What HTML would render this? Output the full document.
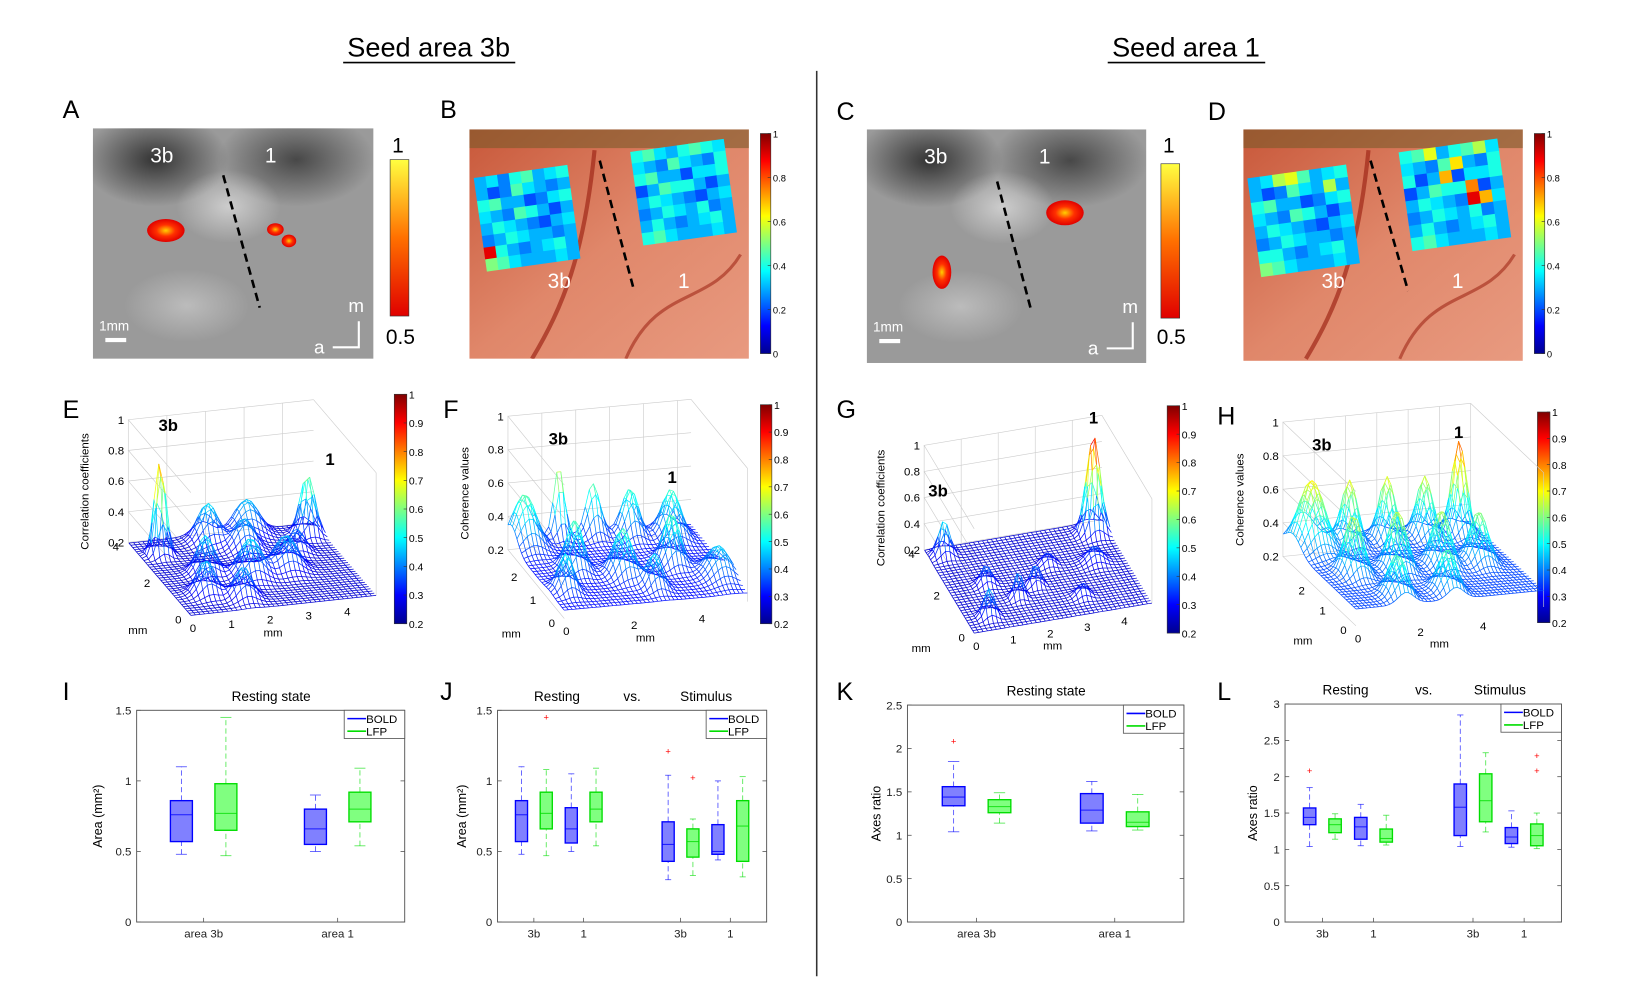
<!DOCTYPE html>
<html><head><meta charset="utf-8"><style>
html,body{margin:0;padding:0;background:#fff;}
svg{display:block;font-family:"Liberation Sans",sans-serif;}
</style></head><body>
<svg id="fig" width="1633" height="984" viewBox="0 0 1565.6 943.4" preserveAspectRatio="none" xmlns="http://www.w3.org/2000/svg">
<defs>
<linearGradient id="jetV" x1="0" y1="1" x2="0" y2="0">
<stop offset="0" stop-color="#00008f"/><stop offset="0.125" stop-color="#0000ff"/><stop offset="0.375" stop-color="#00ffff"/><stop offset="0.625" stop-color="#ffff00"/><stop offset="0.875" stop-color="#ff0000"/><stop offset="1" stop-color="#800000"/>
</linearGradient>
<linearGradient id="hotV" x1="0" y1="1" x2="0" y2="0">
<stop offset="0" stop-color="#e00000"/><stop offset="0.5" stop-color="#ff7000"/><stop offset="1" stop-color="#ffff40"/>
</linearGradient>
<radialGradient id="dark1" cx="0.5" cy="0.5" r="0.5"><stop offset="0" stop-color="#333"/><stop offset="1" stop-color="#333" stop-opacity="0"/></radialGradient>
<radialGradient id="light1" cx="0.5" cy="0.5" r="0.5"><stop offset="0" stop-color="#eee"/><stop offset="1" stop-color="#eee" stop-opacity="0"/></radialGradient>
<radialGradient id="blob" cx="0.5" cy="0.5" r="0.5"><stop offset="0" stop-color="#ffd000"/><stop offset="0.5" stop-color="#ff3000"/><stop offset="1" stop-color="#e00000"/></radialGradient>
<linearGradient id="brain" x1="0" y1="0" x2="1" y2="1"><stop offset="0" stop-color="#c8583a"/><stop offset="0.5" stop-color="#e0876a"/><stop offset="1" stop-color="#e89a80"/></linearGradient>
<clipPath id="clipA"><rect x="89" y="123" width="269" height="221"/></clipPath>
<clipPath id="clipC"><rect x="831" y="124" width="268" height="224"/></clipPath>
<clipPath id="clipB"><rect x="450" y="124" width="268" height="220"/></clipPath>
<clipPath id="clipD"><rect x="1192" y="124" width="268" height="222"/></clipPath>
</defs>

<text x="411" y="54" font-size="26" text-anchor="middle">Seed area 3b</text>
<line x1="329" y1="60" x2="494" y2="60" stroke="#000" stroke-width="1.5"/>
<text x="1137" y="54" font-size="26" text-anchor="middle">Seed area 1</text>
<line x1="1062" y1="60" x2="1213" y2="60" stroke="#000" stroke-width="1.5"/>
<line x1="783" y1="68" x2="783" y2="936" stroke="#333" stroke-width="1.5"/>

<g id="letters" font-size="24"></g>
<g id="images"></g>
<g id="surfaces"></g>
<g id="boxes" font-size="11"></g>
</svg>
<script>
var NS="http://www.w3.org/2000/svg";
function mk(parent,tag,attrs,text){var e=document.createElementNS(NS,tag);for(var k in attrs)e.setAttribute(k,attrs[k]);if(text!==undefined)e.textContent=text;parent.appendChild(e);return e;}
function jet(v){v=Math.max(0,Math.min(1,v));var r=Math.min(4*v-1.5,-4*v+4.5),g=Math.min(4*v-0.5,-4*v+3.5),b=Math.min(4*v+0.5,-4*v+2.5);function c(x){return Math.round(255*Math.max(0,Math.min(1,x)));}return "rgb("+c(r)+","+c(g)+","+c(b)+")";}

var letterNames=["A","B","C","D","E","F","G","H","I","J","K","L"];
var letterPos=[[60,113],[422,113],[802,115],[1158,115],[60,401],[425,401],[802,401],[1167,407],[60,671],[422,671],[802,671],[1167,671]];
var LG=document.getElementById("letters");
letterNames.forEach(function(n,i){var t=mk(LG,"text",{x:letterPos[i][0],y:letterPos[i][1]},n);

});

var IM=document.getElementById("images");
function greyImage(x,y,w,h,name,clip,blobs,dash){
  var g=mk(IM,"g",{"clip-path":"url(#"+clip+")"});
  
  
  mk(g,"rect",{x:x,y:y,width:w,height:h,fill:"#9a9a9a"});
  mk(g,"ellipse",{cx:x+60,cy:y+30,rx:70,ry:45,fill:"url(#dark1)"});
  mk(g,"ellipse",{cx:x+195,cy:y+30,rx:75,ry:45,fill:"url(#dark1)",opacity:0.8});
  mk(g,"ellipse",{cx:x+130,cy:y+75,rx:50,ry:35,fill:"url(#light1)",opacity:0.6});
  mk(g,"ellipse",{cx:x+90,cy:y+170,rx:60,ry:35,fill:"url(#light1)",opacity:0.4});
  blobs.forEach(function(b){mk(g,"ellipse",{cx:x+b[0],cy:y+b[1],rx:b[2],ry:b[3],fill:"url(#blob)"});});
  mk(g,"line",{x1:x+dash[0],y1:y+dash[1],x2:x+dash[2],y2:y+dash[3],stroke:"#000","stroke-width":2.5,"stroke-dasharray":"8,5"});
  mk(g,"text",{x:x+55,y:y+33,"font-size":20,fill:"#fff"},"3b");
  mk(g,"text",{x:x+165,y:y+33,"font-size":20,fill:"#fff"},"1");
  mk(g,"text",{x:x+6,y:y+194,"font-size":13,fill:"#fff"},"1mm");
  mk(g,"rect",{x:x+12,y:y+201,width:20,height:4,fill:"#fff"});
  mk(g,"text",{x:x+245,y:y+176,"font-size":18,fill:"#fff"},"m");
  mk(g,"text",{x:x+212,y:y+216,"font-size":18,fill:"#fff"},"a");
  mk(g,"polyline",{points:(x+255)+","+(y+185)+" "+(x+255)+","+(y+210)+" "+(x+230)+","+(y+210),fill:"none",stroke:"#fff","stroke-width":2});
}
greyImage(89,123,269,221,"bold-map-3b","clipA",[[70,98,18,11],[175,97,8,6],[188,108,7,6]],[125,45,160,172]);
greyImage(831,124,268,224,"bold-map-1","clipC",[[190,80,18,12],[72,137,9,16]],[125,50,158,175]);

function lfpImage(x,y,w,h,name,clip,sq1,sq2,vals1,vals2,dash){
  var g=mk(IM,"g",{"clip-path":"url(#"+clip+")"});
  
  
  mk(g,"rect",{x:x,y:y,width:w,height:h,fill:"url(#brain)"});
  mk(g,"path",{d:"M"+(x+120)+","+(y+20)+" C"+(x+110)+","+(y+120)+" "+(x+90)+","+(y+170)+" "+(x+60)+","+(y+220),stroke:"#a02818","stroke-width":4,fill:"none",opacity:0.7});
  mk(g,"path",{d:"M"+(x+150)+","+(y+220)+" C"+(x+180)+","+(y+150)+" "+(x+230)+","+(y+170)+" "+(x+260)+","+(y+120),stroke:"#a02818","stroke-width":3,fill:"none",opacity:0.6});
  mk(g,"rect",{x:x,y:y,width:w,height:18,fill:"#7a5a2a",opacity:0.6});
  [[sq1,vals1],[sq2,vals2]].forEach(function(s){
    var p=s[0],vals=s[1],n=8,cs=p[2]/n;
    var gg=mk(g,"g",{transform:"rotate("+p[3]+" "+(x+p[0]+p[2]/2)+" "+(y+p[1]+p[2]/2)+")"});
    for(var i=0;i<n;i++)for(var j=0;j<n;j++){mk(gg,"rect",{x:x+p[0]+j*cs,y:y+p[1]+i*cs,width:cs+0.6,height:cs+0.6,fill:jet(vals[i*n+j])});}
  });
  mk(g,"line",{x1:x+dash[0],y1:y+dash[1],x2:x+dash[2],y2:y+dash[3],stroke:"#000","stroke-width":2.5,"stroke-dasharray":"8,5"});
  mk(g,"text",{x:x+75,y:y+152,"font-size":20,fill:"#fff"},"3b");
  mk(g,"text",{x:x+200,y:y+152,"font-size":20,fill:"#fff"},"1");
}
var lfpB1=[.3,.35,.25,.4,.45,.3,.35,.4, .3,.2,.25,.45,.35,.3,.25,.3, .4,.45,.3,.3,.2,.25,.35,.4, .35,.3,.25,.45,.4,.3,.2,.3, .3,.4,.35,.3,.25,.2,.3,.35, .25,.3,.4,.35,.3,.3,.25,.3, .9,.4,.3,.25,.3,.35,.4,.3, .5,.45,.35,.3,.3,.3,.35,.3];
var lfpB2=[.4,.45,.35,.3,.4,.45,.4,.35, .35,.3,.25,.45,.35,.3,.25,.4, .4,.45,.3,.3,.2,.35,.35,.4, .2,.3,.45,.4,.4,.3,.2,.3, .3,.4,.35,.3,.25,.2,.3,.35, .25,.3,.4,.35,.3,.4,.25,.3, .3,.4,.3,.25,.3,.35,.4,.3, .4,.45,.35,.3,.3,.3,.35,.3];
var lfpD1=[.3,.35,.55,.6,.45,.3,.35,.4, .3,.2,.25,.45,.35,.3,.55,.3, .4,.45,.3,.3,.2,.25,.35,.4, .35,.3,.25,.45,.4,.3,.2,.3, .3,.4,.35,.3,.25,.2,.3,.35, .25,.3,.4,.35,.3,.3,.25,.3, .4,.4,.3,.25,.3,.35,.4,.3, .5,.45,.35,.3,.3,.3,.35,.3];
var lfpD2=[.4,.45,.6,.3,.4,.45,.55,.35, .35,.3,.25,.45,.65,.3,.25,.4, .4,.2,.3,.7,.2,.35,.35,.4, .2,.3,.45,.4,.4,.75,.2,.3, .3,.4,.35,.3,.25,.9,.7,.35, .25,.3,.4,.35,.3,.4,.25,.3, .3,.4,.3,.25,.3,.35,.4,.3, .4,.45,.35,.3,.3,.3,.35,.3];
lfpImage(450,124,268,220,"lfp-map-3b","clipB",[10,40,90,-8],[160,15,90,-8],lfpB1,lfpB2,[125,30,158,155]);
lfpImage(1192,124,268,222,"lfp-map-1","clipD",[10,40,95,-8],[155,15,95,-8],lfpD1,lfpD2,[122,30,158,155]);

function colorbar(x,y,w,h,grad,name,ticks,lo,hi,fs){
  var g=mk(IM,"g",{});
  
  
  mk(g,"rect",{x:x,y:y,width:w,height:h,fill:"url(#"+grad+")",stroke:"#333","stroke-width":0.6});
  ticks.forEach(function(t){var yy=y+h-(t-lo)/(hi-lo)*h;mk(g,"line",{x1:x+w-3,y1:yy,x2:x+w,y2:yy,stroke:"#333","stroke-width":0.6});mk(g,"text",{x:x+w+2,y:yy+4,"font-size":fs},String(t));});
}
colorbar(374,153,18,150,"hotV","colorbar-bold-a",[],0.5,1,10);
mk(IM,"text",{x:376,y:146,"font-size":20},"1");mk(IM,"text",{x:370,y:330,"font-size":20},"0.5");
colorbar(1113,157,18,148,"hotV","colorbar-bold-c",[],0.5,1,10);
mk(IM,"text",{x:1115,y:146,"font-size":20},"1");mk(IM,"text",{x:1109,y:330,"font-size":20},"0.5");
var cbTicks01=[0,0.2,0.4,0.6,0.8,1];
colorbar(729,128,10,211,"jetV","colorbar-lfp-b",cbTicks01,0,1,9);
colorbar(1471,128,10,211,"jetV","colorbar-lfp-d",cbTicks01,0,1,9);
var cbTicks3d=[0.2,0.3,0.4,0.5,0.6,0.7,0.8,0.9,1];
colorbar(378,378,12,220,"jetV","colorbar-surface-e",cbTicks3d,0.2,1,10);
colorbar(729,388,11,210,"jetV","colorbar-surface-f",cbTicks3d,0.2,1,10);
colorbar(1119,389,12,218,"jetV","colorbar-surface-g",cbTicks3d,0.2,1,10);
colorbar(1474,395,12,202,"jetV","colorbar-surface-h",cbTicks3d,0.2,1,10);

/* peaks: [x mm, y mm, height, width] */
var peaksE=[[0.5,3.2,0.62,0.14],[4.4,3.4,0.4,0.18],[1.9,3.6,0.25,0.25],[3.0,3.8,0.22,0.3],[1.2,2.0,0.25,0.22],[2.2,1.6,0.25,0.28],[0.8,1.0,0.22,0.22],[3.2,1.8,0.22,0.28],[1.6,0.6,0.2,0.22],[2.6,3.0,0.2,0.25],[3.8,2.6,0.15,0.2]];
var peaksF=[[1.5,3.0,0.42,0.15],[0.4,2.8,0.3,0.3],[2.5,3.0,0.3,0.2],[3.5,2.8,0.28,0.22],[4.6,2.6,0.28,0.25],[1.2,1.6,0.3,0.22],[2.4,1.2,0.28,0.25],[4.0,1.5,0.3,0.22],[3.0,0.6,0.2,0.2],[5.0,0.8,0.18,0.3],[0.5,0.8,0.22,0.2]];
var peaksG=[[4.4,3.5,0.75,0.18],[0.4,3.6,0.27,0.15],[1.0,2.0,0.15,0.15],[1.6,1.2,0.2,0.12],[2.2,1.6,0.18,0.12],[0.6,0.6,0.22,0.14],[2.8,2.4,0.1,0.15],[4.0,2.2,0.12,0.2],[3.2,0.8,0.1,0.15]];
var peaksH=[[5.3,3.0,0.55,0.2],[0.6,3.0,0.4,0.35],[1.8,3.0,0.38,0.22],[3.0,3.0,0.38,0.22],[4.2,3.0,0.36,0.22],[1.0,1.6,0.35,0.25],[2.4,1.6,0.35,0.25],[3.8,1.6,0.33,0.25],[5.0,1.6,0.3,0.25],[1.6,0.4,0.25,0.25],[3.2,0.4,0.25,0.25]];

var SG=document.getElementById("surfaces");
function surface(cfg){
  var g=mk(SG,"g",{});
  
  
  function P(x,y,z){return [cfg.O[0]+x*cfg.ex[0]+y*cfg.ey[0],cfg.O[1]+x*cfg.ex[1]+y*cfg.ey[1]-(z-0.2)*cfg.ez];}
  var wall=mk(g,"g",{stroke:"#ccc","stroke-width":0.6,fill:"none"});
  for(var zt=0.2;zt<=1.001;zt+=0.2){var a=P(0,cfg.ym,zt),b=P(cfg.xm,cfg.ym,zt),c=P(0,0,zt);
    mk(wall,"polyline",{points:c[0]+","+c[1]+" "+a[0]+","+a[1]+" "+b[0]+","+b[1]});
    mk(g,"text",{x:a[0]-4,y:a[1]+4,"font-size":11,"text-anchor":"end"},(Math.round(zt*10)/10).toString());}
  for(var xt=0;xt<=cfg.xm;xt+=1){var a1=P(xt,cfg.ym,0.2),a2=P(xt,cfg.ym,1);mk(wall,"line",{x1:a1[0],y1:a1[1],x2:a2[0],y2:a2[1]});}
  var r1=P(cfg.xm,cfg.ym,1),r2=P(cfg.xm,0,1),r3=P(cfg.xm,0,0.2);mk(wall,"polyline",{points:r1[0]+","+r1[1]+" "+r2[0]+","+r2[1]+" "+r3[0]+","+r3[1]});
  cfg.xt.forEach(function(t){var p=P(t,0,0.2);mk(g,"text",{x:p[0]+2,y:p[1]+16,"font-size":11,"text-anchor":"middle"},String(t));});
  cfg.yt.forEach(function(t){var p=P(0,t,0.2);mk(g,"text",{x:p[0]-12,y:p[1]+8,"font-size":11,"text-anchor":"middle"},String(t));});
  var mx=P(cfg.xm/2,0,0.2);mk(g,"text",{x:mx[0]-10,y:mx[1]+30,"font-size":11,"text-anchor":"middle"},"mm");
  var my=P(0,0,0.2);mk(g,"text",{x:my[0]-60,y:my[1]+18,"font-size":11},"mm");
  var zl=P(0,cfg.ym,0.6);mk(g,"text",{x:zl[0]-38,y:zl[1]+10,"font-size":11,"text-anchor":"middle",transform:"rotate(-90 "+(zl[0]-38)+" "+(zl[1]+10)+")"},cfg.zlabel);
  cfg.labels.forEach(function(l){mk(g,"text",{x:l[0],y:l[1],"font-size":16,"font-weight":"bold"},l[2]);});
  function Z(x,y){var z=cfg.base;cfg.peaks.forEach(function(p){z+=p[2]*Math.exp(-((x-p[0])*(x-p[0])+(y-p[1])*(y-p[1]))/(2*p[3]*p[3]));});return z;}
  var st=0.12,nx=Math.round(cfg.xm/st),ny=Math.round(cfg.ym/st),sg=mk(g,"g",{"stroke-width":0.7,fill:"none"});
  for(var j=ny;j>=0;j--){var y=j*st;
    for(var i=0;i<nx;i++){var x=i*st,z1=Z(x,y),z2=Z(x+st,y),a=P(x,y,z1),b=P(x+st,y,z2);
      mk(sg,"line",{x1:a[0].toFixed(1),y1:a[1].toFixed(1),x2:b[0].toFixed(1),y2:b[1].toFixed(1),stroke:jet((0.5*(z1+z2)-0.2)/0.8*0.9+0.08)});
      if(j>0){var z3=Z(x,y-st),c=P(x,y-st,z3);mk(sg,"line",{x1:a[0].toFixed(1),y1:a[1].toFixed(1),x2:c[0].toFixed(1),y2:c[1].toFixed(1),stroke:jet((0.5*(z1+z3)-0.2)/0.8*0.9+0.08)});}
    }}
}
surface({name:"surface-e",O:[183,590],ex:[37,-4],ey:[-15,-17.5],ez:147,xm:4.8,ym:4,base:0.2,peaks:peaksE,xt:[0,1,2,3,4],yt:[0,2,4],zlabel:"Correlation coefficients",labels:[[152,413,"3b"],[312,446,"1"]]});
surface({name:"surface-f",O:[541,593],ex:[32.5,-3],ey:[-18,-22],ez:160,xm:5.4,ym:3,base:0.25,peaks:peaksF,xt:[0,2,4],yt:[0,1,2],zlabel:"Coherence values",labels:[[526,426,"3b"],[640,463,"1"]]});
surface({name:"surface-g",O:[934,607],ex:[35.5,-6],ey:[-12,-20],ez:125,xm:4.8,ym:4,base:0.2,peaks:peaksG,xt:[0,1,2,3,4],yt:[0,2,4],zlabel:"Correlation coefficients",labels:[[890,476,"3b"],[1044,406,"1"]]});
surface({name:"surface-h",O:[1300,600],ex:[30,-3],ey:[-20,-19],ez:161,xm:6,ym:3.5,base:0.3,peaks:peaksH,xt:[0,2,4],yt:[0,1,2],zlabel:"Coherence values",labels:[[1258,432,"3b"],[1394,420,"1"]]});

/* each stat: [whiskerLo, q1, median, q3, whiskerHi] */
var iBold=[[0.48,0.57,0.76,0.86,1.10],[0.50,0.55,0.66,0.80,0.90]];
var iLfp=[[0.47,0.65,0.77,0.98,1.45],[0.54,0.71,0.80,0.92,1.09]];
var jBold=[[0.48,0.57,0.76,0.86,1.10],[0.50,0.56,0.66,0.81,1.05],[0.30,0.43,0.55,0.71,1.04],[0.44,0.48,0.50,0.69,1.00]];
var jLfp=[[0.47,0.66,0.77,0.92,1.08],[0.54,0.71,0.80,0.92,1.09],[0.33,0.46,0.57,0.66,0.73],[0.32,0.43,0.68,0.86,1.03]];
var jBoldOut=[[],[],[1.21],[]];
var jLfpOut=[[1.45],[],[1.02],[]];
var kBold=[[1.04,1.34,1.44,1.56,1.85],[1.05,1.14,1.29,1.48,1.62]];
var kLfp=[[1.14,1.26,1.33,1.41,1.49],[1.06,1.10,1.15,1.27,1.47]];
var kBoldOut=[[2.08],[]];
var kLfpOut=[[],[]];
var lBold=[[1.04,1.34,1.44,1.57,1.85],[1.05,1.14,1.31,1.44,1.62],[1.04,1.19,1.58,1.90,2.85],[1.03,1.08,1.17,1.30,1.53]];
var lLfp=[[1.14,1.23,1.34,1.42,1.49],[1.06,1.10,1.15,1.28,1.47],[1.24,1.38,1.67,2.04,2.33],[1.01,1.05,1.19,1.35,1.50]];
var lBoldOut=[[2.08],[],[],[]];
var lLfpOut=[[],[],[],[2.08,2.29]];
var iCats=["area 3b","area 1"];
var jCats=["3b","1","3b","1"];
var iTicks=[0,0.5,1,1.5];
var kTicks=[0,0.5,1,1.5,2,2.5];
var lTicks=[0,0.5,1,1.5,2,2.5,3];

var BG=document.getElementById("boxes");
function boxChart(c){
  var g=mk(BG,"g",{});
  
  
  var W=c.x1-c.x0,H=c.y1-c.y0;
  function ys(v){return c.y1-v/c.ymax*H;}
  var n=c.cats.length,centers=[];
  for(var i=0;i<n;i++){centers.push(n===2?0.25+0.5*i:[0.135,0.32,0.68,0.865][i]);}
  var off=n===2?0.083:0.046,bw=(n===2?0.082:0.045)*W;
  c.title.forEach(function(t){var e=mk(g,"text",{x:t[0],y:c.y0-9,"font-size":13,"text-anchor":"middle"},t[1]);
    
    });
  c.ticks.forEach(function(t){var y=ys(t);mk(g,"line",{x1:c.x0,y1:y,x2:c.x0+4,y2:y,stroke:"#444","stroke-width":0.7});mk(g,"line",{x1:c.x1-4,y1:y,x2:c.x1,y2:y,stroke:"#444","stroke-width":0.7});
    var e=mk(g,"text",{x:c.x0-5,y:y+4,"font-size":11,"text-anchor":"end",fill:"#222"},String(t));
    
    });
  var yl=mk(g,"text",{x:c.ylx,y:(c.y0+c.y1)/2,"font-size":12,"text-anchor":"middle",transform:"rotate(-90 "+c.ylx+" "+((c.y0+c.y1)/2)+")"},c.ylabel);
  
  
  centers.forEach(function(f,i){var x=c.x0+f*W;mk(g,"line",{x1:x,y1:c.y1,x2:x,y2:c.y1-4,stroke:"#444","stroke-width":0.7});
    var e=mk(g,"text",{x:x,y:c.y1+15,"font-size":11,"text-anchor":"middle",fill:"#222"},c.cats[i]);
    
    });
  [[c.bold,c.boldOut,-1,"#8080ff","#0000ff","bold"],[c.lfp,c.lfpOut,1,"#80ff80","#00dd00","lfp"]].forEach(function(S){
    S[0].forEach(function(s,i){var x=c.x0+(centers[i]+S[2]*off)*W;
      var bg=mk(g,"g",{});
      
      
      mk(bg,"line",{x1:x,y1:ys(s[0]),x2:x,y2:ys(s[1]),stroke:S[4],"stroke-width":0.8,"stroke-dasharray":"5,3",opacity:0.7});
      mk(bg,"line",{x1:x,y1:ys(s[3]),x2:x,y2:ys(s[4]),stroke:S[4],"stroke-width":0.8,"stroke-dasharray":"5,3",opacity:0.7});
      mk(bg,"line",{x1:x-bw/4,y1:ys(s[0]),x2:x+bw/4,y2:ys(s[0]),stroke:S[4],"stroke-width":0.8,opacity:0.7});
      mk(bg,"line",{x1:x-bw/4,y1:ys(s[4]),x2:x+bw/4,y2:ys(s[4]),stroke:S[4],"stroke-width":0.8,opacity:0.7});
      mk(bg,"rect",{x:x-bw/2,y:ys(s[3]),width:bw,height:ys(s[1])-ys(s[3]),fill:S[3],stroke:S[4],"stroke-width":1.3});
      mk(bg,"line",{x1:x-bw/2,y1:ys(s[2]),x2:x+bw/2,y2:ys(s[2]),stroke:S[4],"stroke-width":1,opacity:0.8});
      S[1][i].forEach(function(o){mk(bg,"text",{x:x,y:ys(o)+3,"font-size":9,fill:"#f00","text-anchor":"middle"},"+");});
    });
  });
  mk(g,"rect",{x:c.x0,y:c.y0,width:W,height:H,fill:"none",stroke:"#555","stroke-width":0.9});
  var lg=mk(g,"g",{});
  
  
  var lx=c.x1-58,ly=c.y0;
  mk(lg,"rect",{x:lx,y:ly,width:58,height:27,fill:"#fff",stroke:"#555","stroke-width":0.8});
  mk(lg,"line",{x1:lx+3,y1:ly+8,x2:lx+21,y2:ly+8,stroke:"#0000ff","stroke-width":1.5});
  mk(lg,"line",{x1:lx+3,y1:ly+20,x2:lx+21,y2:ly+20,stroke:"#00dd00","stroke-width":1.5});
  mk(lg,"text",{x:lx+21,y:ly+12,"font-size":11},"BOLD");
  mk(lg,"text",{x:lx+21,y:ly+24,"font-size":11},"LFP");
}
boxChart({name:"boxplot-i",x0:131,x1:388,y0:681,y1:884,ymax:1.5,ticks:iTicks,cats:iCats,bold:iBold,lfp:iLfp,boldOut:[[],[]],lfpOut:[[],[]],title:[[260,"Resting state"]],ylabel:"Area (mm²)",ylx:98});
boxChart({name:"boxplot-j",x0:477,x1:735,y0:681,y1:884,ymax:1.5,ticks:iTicks,cats:jCats,bold:jBold,lfp:jLfp,boldOut:jBoldOut,lfpOut:jLfpOut,title:[[534,"Resting"],[606,"vs."],[677,"Stimulus"]],ylabel:"Area (mm²)",ylx:447});
boxChart({name:"boxplot-k",x0:870,x1:1135,y0:676,y1:884,ymax:2.5,ticks:kTicks,cats:iCats,bold:kBold,lfp:kLfp,boldOut:kBoldOut,lfpOut:kLfpOut,title:[[1003,"Resting state"]],ylabel:"Axes ratio",ylx:844});
boxChart({name:"boxplot-l",x0:1232,x1:1497,y0:675,y1:884,ymax:3,ticks:lTicks,cats:jCats,bold:lBold,lfp:lLfp,boldOut:lBoldOut,lfpOut:lLfpOut,title:[[1290,"Resting"],[1365,"vs."],[1438,"Stimulus"]],ylabel:"Axes ratio",ylx:1205});
</script>
</body></html>
